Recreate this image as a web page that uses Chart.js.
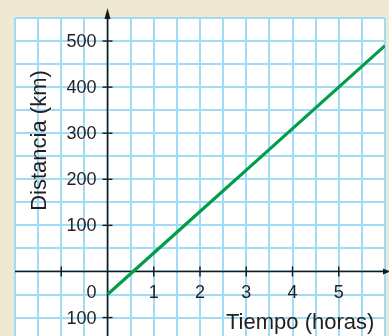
<!DOCTYPE html>
<html>
<head>
<meta charset="utf-8">
<script src="https://cdn.jsdelivr.net/npm/chart.js@4"></script>
<style>
  html, body { margin: 0; padding: 0; background: #efe8d3; }
  #wrap { width: 389px; height: 336px; }
</style>
</head>
<body>
<div id="wrap"><canvas id="grafica"></canvas></div>
<script>
// tiempo en horas y distancia recorrida en km
var tiempo = [0, 1, 2, 3, 4, 5, 6];
var distancia = [-50, 40, 130, 220, 310, 400, 490];

// marcas y rotulos de los ejes
var marcasX = [-1, 1, 2, 3, 4, 5];
var rotulosX = ['1', '2', '3', '4', '5'];
var valoresRotulosX = [1, 2, 3, 4, 5];
var marcasY = [500, 400, 300, 200, 100, -100];
var rotulosY = ['500', '400', '300', '200', '100', '0', '100'];
var valoresRotulosY = [500, 400, 300, 200, 100, -45, -100];

var puntos = [];
for (let i = 0; i < tiempo.length; i++) {
    puntos.push({ x: tiempo[i], y: distancia[i] });
}

const fuente = '"Liberation Sans", Arial, sans-serif';
const colorTexto = '#231f20';

// fondo, ejes con flechas, marcas y rotulos
const ejes = {
    id: 'ejes',
    beforeDraw(chart) {
        const ctx = chart.ctx;
        const a = chart.chartArea;
        ctx.save();
        ctx.fillStyle = '#efe8d3';
        ctx.fillRect(0, 0, chart.width, chart.height);
        ctx.fillStyle = '#ffffff';
        ctx.fillRect(a.left, a.top, a.right - a.left, a.bottom - a.top);
        ctx.restore();
    },
    beforeDatasetsDraw(chart) {
        const ctx = chart.ctx;
        const a = chart.chartArea;
        const sx = chart.scales.x;
        const sy = chart.scales.y;
        const x0 = sx.getPixelForValue(0);
        const y0 = sy.getPixelForValue(0);
        ctx.save();
        ctx.strokeStyle = '#1a1a1a';
        ctx.fillStyle = '#1a1a1a';
        ctx.lineWidth = 1.6;
        // eje horizontal
        ctx.beginPath();
        ctx.moveTo(a.left, y0);
        ctx.lineTo(a.right, y0);
        ctx.stroke();
        ctx.beginPath();
        ctx.moveTo(a.right + 5, y0);
        ctx.lineTo(a.right - 2, y0 - 3);
        ctx.lineTo(a.right - 2, y0 + 3);
        ctx.closePath();
        ctx.fill();
        // eje vertical
        ctx.beginPath();
        ctx.moveTo(x0, a.bottom);
        ctx.lineTo(x0, a.top - 4);
        ctx.stroke();
        ctx.beginPath();
        ctx.moveTo(x0, a.top - 10);
        ctx.lineTo(x0 - 3, a.top + 1);
        ctx.lineTo(x0 + 3, a.top + 1);
        ctx.closePath();
        ctx.fill();
        // marcas
        ctx.lineWidth = 1.4;
        marcasX.forEach(v => {
            const px = sx.getPixelForValue(v);
            ctx.beginPath();
            ctx.moveTo(px, y0 - 5);
            ctx.lineTo(px, y0 + 5);
            ctx.stroke();
        });
        marcasY.forEach(v => {
            const py = sy.getPixelForValue(v);
            ctx.beginPath();
            ctx.moveTo(x0 - 5, py);
            ctx.lineTo(x0 + 5, py);
            ctx.stroke();
        });
        ctx.restore();
    },
    afterDraw(chart) {
        const ctx = chart.ctx;
        const sx = chart.scales.x;
        const sy = chart.scales.y;
        const x0 = sx.getPixelForValue(0);
        const y0 = sy.getPixelForValue(0);
        ctx.save();
        ctx.fillStyle = colorTexto;
        ctx.font = '18px ' + fuente;
        ctx.textAlign = 'right';
        ctx.textBaseline = 'middle';
        rotulosY.forEach((t, i) => {
            ctx.fillText(t, x0 - 11, sy.getPixelForValue(valoresRotulosY[i]) + 1);
        });
        ctx.textAlign = 'center';
        rotulosX.forEach((t, i) => {
            ctx.fillText(t, sx.getPixelForValue(valoresRotulosX[i]), y0 + 22);
        });
        ctx.font = '22px ' + fuente;
        ctx.textAlign = 'left';
        ctx.textBaseline = 'alphabetic';
        ctx.fillText('Tiempo (horas)', 226, 329);
        ctx.translate(45.5, 140.5);
        ctx.rotate(-Math.PI / 2);
        ctx.textAlign = 'center';
        ctx.fillText('Distancia (km)', 0, 0);
        ctx.restore();
    }
};

const grid = {
    color: '#a2dbf4',
    lineWidth: 2,
    drawTicks: false
};

const config = {
    type: 'scatter',
    data: {
        datasets: [{
            label: 'Distancia',
            data: puntos,
            showLine: true,
            borderColor: 'rgb(0, 157, 74)',
            borderWidth: 3.2,
            pointRadius: 0,
            fill: false
        }]
    },
    options: {
        responsive: true,
        maintainAspectRatio: false,
        animation: false,
        layout: { padding: { left: 15, top: 18, right: 4, bottom: 0 } },
        plugins: {
            legend: { display: false },
            tooltip: { enabled: false }
        },
        scales: {
            x: {
                type: 'linear',
                min: -2,
                max: 6,
                ticks: { display: false, stepSize: 0.5 },
                grid: grid,
                border: { display: false }
            },
            y: {
                type: 'linear',
                min: -140,
                max: 550,
                ticks: { display: false, stepSize: 50 },
                afterBuildTicks: s => { s.ticks = s.ticks.filter(t => t.value % 50 === 0); },
                grid: grid,
                border: { display: false }
            }
        }
    },
    plugins: [ejes]
};

const grafica = new Chart(document.getElementById('grafica'), config);
</script>
</body>
</html>
